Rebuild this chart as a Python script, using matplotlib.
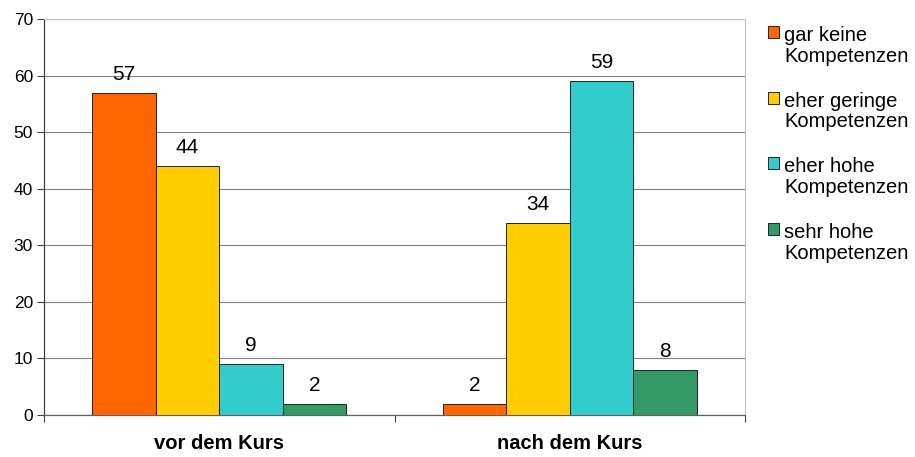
import numpy as np
import matplotlib.pyplot as plt

plt.rcParams['font.family'] = ['Liberation Sans', 'DejaVu Sans']

categories = ['vor dem Kurs', 'nach dem Kurs']
series = ['gar keine\nKompetenzen', 'eher geringe\nKompetenzen',
          'eher hohe\nKompetenzen', 'sehr hohe\nKompetenzen']
values = [[57, 2], [44, 34], [9, 59], [2, 8]]
colors = ['#FF6600', '#FFCC00', '#33CCCC', '#339966']

fig = plt.figure(figsize=(9.15, 4.57), dpi=100)
ax = fig.add_axes([44 / 915, 42 / 457, 701 / 915, 396 / 457])

x = np.arange(len(categories))
w = 0.181
for i, (name, vals, c) in enumerate(zip(series, values, colors)):
    pos = x + (i - 1.5) * w
    bars = ax.bar(pos, vals, width=w, color=c, edgecolor='#222222', linewidth=0.7,
                  label=name, zorder=3)
    for b, v in zip(bars, vals):
        ax.annotate(str(v), (b.get_x() + b.get_width() / 2, v), xytext=(0, 6.5),
                    textcoords='offset points', ha='center', va='bottom', fontsize=15)

ax.set_xlim(-0.5, 1.5)
ax.set_ylim(0, 70)
ax.set_yticks(range(0, 71, 10))
ax.yaxis.grid(True, color='#808080', linewidth=0.8, zorder=0)
ax.set_axisbelow(True)
ax.tick_params(axis='y', labelsize=12.5, length=5, width=0.8, color='#404040', pad=3)

ax.set_xticks(x)
ax.set_xticklabels(categories, fontsize=14.5, fontweight='bold')
ax.tick_params(axis='x', length=0, pad=14)
ax.set_xticks([-0.5, 0.5, 1.5], minor=True)
ax.tick_params(axis='x', which='minor', length=5, width=0.8, color='#404040')

ax.spines['left'].set_color('#404040')
ax.spines['bottom'].set_color('#606060')
ax.spines['top'].set_color('#c0c0c0')
ax.spines['right'].set_color('#c0c0c0')
for s in ['left', 'bottom']:
    ax.spines[s].set_linewidth(0.9)

leg = fig.legend(loc='upper left', bbox_to_anchor=(768 / 915, 1 - 26 / 457),
                 frameon=False, fontsize=14.5, handlelength=0.55, handleheight=0.55,
                 handletextpad=0.25, labelspacing=1.3, borderaxespad=0, borderpad=0)
for t in leg.get_texts():
    t.set_linespacing(1.1)
for col in leg._legend_handle_box.get_children():
    for row in col.get_children():
        row.align = 'top'

fig.savefig('out.png', dpi=100)
